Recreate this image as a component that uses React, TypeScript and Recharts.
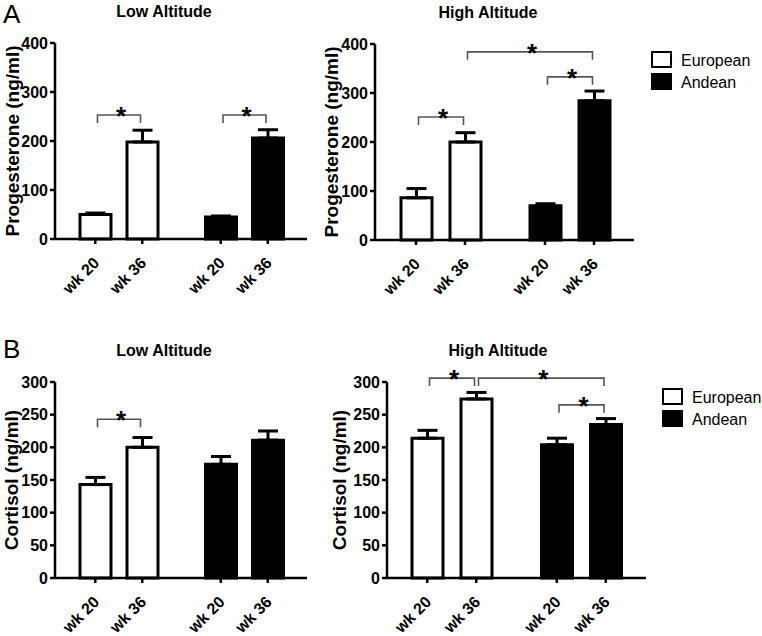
import React from "react";
import { BarChart, Bar, XAxis, YAxis, ErrorBar, LabelList, Cell } from "recharts";

const FONT = '"Liberation Sans", Arial, Helvetica, sans-serif';

// ---------- data ----------
const groups = ["European", "Andean"];
const weekLabels = ["wk 20", "wk 36"];
const groupFill: Record<string, string> = { European: "#ffffff", Andean: "#000000" };

const progLowWk20 = [50, 45];
const progLowWk20Err = [3, 2];
const progLowWk36 = [198, 206];
const progLowWk36Err = [24, 17];

const progHighWk20 = [86, 70];
const progHighWk20Err = [19, 4];
const progHighWk36 = [200, 284];
const progHighWk36Err = [19, 20];

const cortLowWk20 = [143, 174];
const cortLowWk20Err = [11, 12];
const cortLowWk36 = [200, 211];
const cortLowWk36Err = [15, 14];

const cortHighWk20 = [214, 204];
const cortHighWk20Err = [12, 10];
const cortHighWk36 = [274, 235];
const cortHighWk36Err = [10, 9];

const progTicks = [0, 100, 200, 300, 400];
const cortTicks = [0, 50, 100, 150, 200, 250, 300];

type Bracket = { fromGroup: string; fromWeek: string; toGroup: string; level: number };

const progLowBrackets: Bracket[] = [
  { fromGroup: "European", fromWeek: "wk20", toGroup: "European", level: 253 },
  { fromGroup: "Andean", fromWeek: "wk20", toGroup: "Andean", level: 253 },
];
const progHighBrackets: Bracket[] = [
  { fromGroup: "European", fromWeek: "wk20", toGroup: "European", level: 251 },
  { fromGroup: "European", fromWeek: "wk36", toGroup: "Andean", level: 384 },
  { fromGroup: "Andean", fromWeek: "wk20", toGroup: "Andean", level: 333 },
];
const cortLowBrackets: Bracket[] = [
  { fromGroup: "European", fromWeek: "wk20", toGroup: "European", level: 243 },
];
const cortHighBrackets: Bracket[] = [
  { fromGroup: "European", fromWeek: "wk20", toGroup: "European", level: 306 },
  { fromGroup: "European", fromWeek: "wk36", toGroup: "Andean", level: 306 },
  { fromGroup: "Andean", fromWeek: "wk20", toGroup: "Andean", level: 265 },
];

const legendItems = ["European", "Andean"];

function buildRows(w20: number[], w20e: number[], w36: number[], w36e: number[]) {
  return groups.map((g, i) => ({
    group: g,
    wk20: w20[i],
    wk36: w36[i],
    wk20Err: [0, w20e[i]],
    wk36Err: [0, w36e[i]],
  }));
}

// ---------- components ----------
function WeekTick(props: any) {
  const { x, y, step } = props;
  if (x == null || y == null) return null;
  return (
    <g>
      {weekLabels.map((w, i) => {
        const cx = x + (i - 0.5) * step;
        const ax = cx + 5;
        const ay = y + 25;
        return (
          <g key={w}>
            <line x1={cx} x2={cx} y1={y} y2={y + 5} stroke="#000" strokeWidth={2.5} />
            <g transform={`translate(${ax},${ay}) rotate(-45)`}>
              <text x={0} y={0} textAnchor="end" fontFamily={FONT} fontWeight="bold" fontSize={16} fill="#000">
                {w}
              </text>
            </g>
          </g>
        );
      })}
    </g>
  );
}

function makeBracketContent(brackets: Bracket[], step: number, rows: any[]) {
  const registry: Record<string, number> = {};
  return (props: any) => {
    const { x, y, width, height, value } = props;
    let index = props.index;
    if (index == null) index = rows.findIndex((r) => r.wk36 === value);
    if (x == null || !height || !value || index < 0) return null;
    const group = groups[index];
    const cx = x + width / 2;
    registry[group] = cx;
    const base = y + height;
    const ppu = height / value;
    const own = brackets.filter((b) => b.toGroup === group);
    return (
      <g>
        {own.map((b, k) => {
          let x1: number;
          if (b.fromGroup === group) {
            x1 = cx - step;
          } else {
            const other = registry[b.fromGroup];
            if (other == null) return null;
            x1 = b.fromWeek === "wk36" ? other : other - step;
          }
          const xa = x1 + 2;
          const xb = cx - 2;
          const ly = base - b.level * ppu;
          return (
            <g key={k}>
              <path
                d={`M${xa},${ly + 8} L${xa},${ly} L${xb},${ly} L${xb},${ly + 8}`}
                fill="none"
                stroke="#555"
                strokeWidth={1.6}
              />
              <text
                x={(xa + xb) / 2 + 2}
                y={ly + 10}
                textAnchor="middle"
                fontFamily={FONT}
                fontWeight="bold"
                fontSize={26}
                fill="#000"
              >
                *
              </text>
            </g>
          );
        })}
      </g>
    );
  };
}

type PanelProps = {
  left: number;
  top: number;
  width: number;
  height: number;
  marginTop: number;
  yAxisWidth: number;
  xAxisHeight: number;
  padLeft: number;
  barSize: number;
  barGap: number;
  rows: any[];
  ticks: number[];
  yLabel: string;
  labelGap: number;
  brackets: Bracket[];
};

function Panel(p: PanelProps) {
  const step = p.barSize + p.barGap;
  const max = p.ticks[p.ticks.length - 1];
  const bracketContent = makeBracketContent(p.brackets, step, p.rows);
  return (
    <div style={{ position: "absolute", left: p.left, top: p.top, width: p.width, height: p.height }}>
      <BarChart
        width={p.width}
        height={p.height}
        data={p.rows}
        margin={{ top: p.marginTop, right: 0, bottom: 0, left: 0 }}
        barGap={p.barGap}
        barCategoryGap={0}
        style={{ overflow: "visible" }}
      >
        <XAxis
          dataKey="group"
          height={p.xAxisHeight}
          padding={{ left: p.padLeft, right: 0 }}
          axisLine={{ stroke: "#000", strokeWidth: 2.5 }}
          tickLine={false}
          tickSize={0}
          tickMargin={0}
          interval={0}
          tick={<WeekTick step={step} />}
        />
        <YAxis
          width={p.yAxisWidth}
          type="number"
          domain={[0, max]}
          ticks={p.ticks}
          interval={0}
          axisLine={{ stroke: "#000", strokeWidth: 2.5 }}
          tickLine={{ stroke: "#000", strokeWidth: 2.5 }}
          tickSize={5}
          tickMargin={2}
          tick={{ fill: "#000", fontSize: 16, fontWeight: "bold", fontFamily: FONT }}
          label={{
            value: p.yLabel,
            content: (lp: any) => {
              const vb = lp.viewBox || {};
              const cx = (vb.x ?? 0) + (vb.width ?? p.yAxisWidth) - p.labelGap;
              const cy = (vb.y ?? p.marginTop) + (vb.height ?? 0) / 2;
              return (
                <text
                  x={cx}
                  y={cy}
                  transform={`rotate(-90 ${cx} ${cy})`}
                  textAnchor="middle"
                  dominantBaseline="central"
                  fontFamily={FONT}
                  fontWeight="bold"
                  fontSize={19}
                  fill="#000"
                >
                  {p.yLabel}
                </text>
              );
            },
          }}
        />
        <Bar dataKey="wk20" barSize={p.barSize} stroke="#000" strokeWidth={3} isAnimationActive={false}>
          {p.rows.map((r) => (
            <Cell key={r.group} fill={groupFill[r.group]} />
          ))}
          <ErrorBar dataKey="wk20Err" width={10} strokeWidth={3} stroke="#000" direction="y" isAnimationActive={false} />
        </Bar>
        <Bar dataKey="wk36" barSize={p.barSize} stroke="#000" strokeWidth={3} isAnimationActive={false}>
          {p.rows.map((r) => (
            <Cell key={r.group} fill={groupFill[r.group]} />
          ))}
          <ErrorBar dataKey="wk36Err" width={10} strokeWidth={3} stroke="#000" direction="y" isAnimationActive={false} />
          <LabelList dataKey="wk36" content={bracketContent} />
        </Bar>
      </BarChart>
    </div>
  );
}

function Legend2({ x, y }: { x: number; y: number }) {
  return (
    <g>
      {legendItems.map((name, i) => (
        <g key={name}>
          <rect x={x} y={y + i * 22} width={19} height={15} fill={groupFill[name]} stroke="#000" strokeWidth={2} />
          <text x={x + 29} y={y + i * 22 + 14} fontFamily={FONT} fontSize={16} fill="#000">
            {name}
          </text>
        </g>
      ))}
    </g>
  );
}

export default function App() {
  const progLowRows = buildRows(progLowWk20, progLowWk20Err, progLowWk36, progLowWk36Err);
  const progHighRows = buildRows(progHighWk20, progHighWk20Err, progHighWk36, progHighWk36Err);
  const cortLowRows = buildRows(cortLowWk20, cortLowWk20Err, cortLowWk36, cortLowWk36Err);
  const cortHighRows = buildRows(cortHighWk20, cortHighWk20Err, cortHighWk36, cortHighWk36Err);

  return (
    <div style={{ position: "absolute", left: 0, top: 0, width: 762, height: 636, background: "#fff", overflow: "hidden" }}>
      <Panel
        left={0}
        top={0}
        width={307}
        height={320}
        marginTop={43}
        yAxisWidth={55}
        xAxisHeight={81}
        padLeft={1}
        barSize={31}
        barGap={16}
        rows={progLowRows}
        ticks={progTicks}
        yLabel="Progesterone (ng/ml)"
        labelGap={43}
        brackets={progLowBrackets}
      />
      <Panel
        left={300}
        top={0}
        width={334}
        height={320}
        marginTop={44}
        yAxisWidth={75}
        xAxisHeight={80}
        padLeft={1}
        barSize={31}
        barGap={18}
        rows={progHighRows}
        ticks={progTicks}
        yLabel="Progesterone (ng/ml)"
        labelGap={44}
        brackets={progHighBrackets}
      />
      <Panel
        left={0}
        top={320}
        width={307}
        height={316}
        marginTop={62}
        yAxisWidth={55}
        xAxisHeight={58}
        padLeft={1}
        barSize={31}
        barGap={16}
        rows={cortLowRows}
        ticks={cortTicks}
        yLabel="Cortisol (ng/ml)"
        labelGap={44}
        brackets={cortLowBrackets}
      />
      <Panel
        left={300}
        top={320}
        width={346}
        height={316}
        marginTop={62}
        yAxisWidth={87}
        xAxisHeight={58}
        padLeft={0}
        barSize={31}
        barGap={18}
        rows={cortHighRows}
        ticks={cortTicks}
        yLabel="Cortisol (ng/ml)"
        labelGap={48}
        brackets={cortHighBrackets}
      />
      <svg
        width={762}
        height={636}
        style={{ position: "absolute", left: 0, top: 0, pointerEvents: "none" }}
      >
        <text x={3} y={23} fontFamily={FONT} fontSize={26} fill="#000">A</text>
        <text x={3} y={358} fontFamily={FONT} fontSize={26} fill="#000">B</text>
        <text x={164} y={16.5} textAnchor="middle" fontFamily={FONT} fontWeight="bold" fontSize={16} fill="#000">Low Altitude</text>
        <text x={488} y={17.5} textAnchor="middle" fontFamily={FONT} fontWeight="bold" fontSize={16} fill="#000">High Altitude</text>
        <text x={164} y={356} textAnchor="middle" fontFamily={FONT} fontWeight="bold" fontSize={16} fill="#000">Low Altitude</text>
        <text x={498} y={356} textAnchor="middle" fontFamily={FONT} fontWeight="bold" fontSize={16} fill="#000">High Altitude</text>
        <Legend2 x={652} y={52} />
        <Legend2 x={663} y={389} />
      </svg>
    </div>
  );
}
